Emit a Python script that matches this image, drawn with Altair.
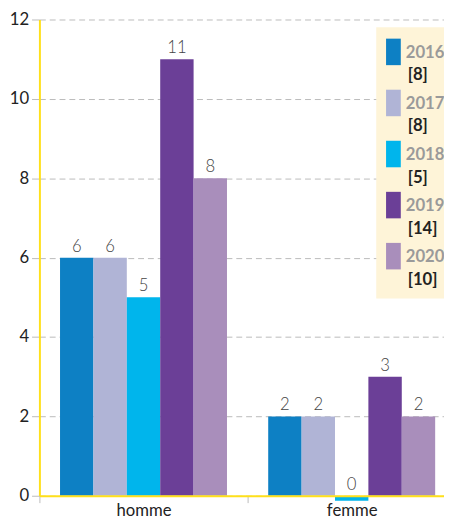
import altair as alt
import pandas as pd

categories = ["homme", "femme"]
years = ["2016", "2017", "2018", "2019", "2020"]
homme = [6, 6, 5, 11, 8]
femme = [2, 2, 0, 3, 2]
totals = [8, 8, 5, 14, 10]
colors = ["#0D80C4", "#B0B4D6", "#00B5EC", "#6B3F97", "#A98EBB"]

rows = []
for cat, vals in zip(categories, [homme, femme]):
    for y, v in zip(years, vals):
        rows.append({"sexe": cat, "year": y, "value": v})
df = pd.DataFrame(rows)
ldf = pd.DataFrame({"year": years, "lab": ["[%d]" % t for t in totals]})

FONT = "Lato"
YEL = "#FFE01B"
GRID = "#BBBBBB"

color = alt.Color("year:N", sort=years, scale=alt.Scale(domain=years, range=colors), legend=None)

base = alt.Chart(df).encode(
    x=alt.X("sexe:N", sort=categories,
            scale=alt.Scale(paddingInner=0.198, paddingOuter=0.0707, align=0.7),
            axis=alt.Axis(title=None, labelAngle=0, domainColor=YEL, domainWidth=2,
                          tickColor=GRID, tickSize=7, tickOffset=-106, labelOffset=106,
                          labelFont=FONT, labelFontSize=17, labelColor="#222",
                          labelPadding=0, zindex=1)),
    xOffset=alt.XOffset("year:N", sort=years, scale=alt.Scale(paddingInner=0, paddingOuter=0)),
)

yenc = alt.Y("value:Q", scale=alt.Scale(domain=[0, 12], nice=False),
             axis=alt.Axis(title=None, values=[0, 2, 4, 6, 8, 10, 12], grid=True,
                           gridDash=[6, 4], gridColor=GRID, tickColor=GRID, tickSize=8,
                           domainColor=YEL, domainWidth=2, labelFont=FONT,
                           labelFontSize=17, labelColor="#222", labelPadding=3))

bars = base.mark_bar().encode(y=yenc, color=color)
labels = base.mark_text(dy=-2, baseline="bottom", font=FONT, fontSize=17, fontWeight=300,
                        color="#444").encode(y="value:Q", text="value:Q")
zero = base.transform_filter("datum.value == 0").mark_tick(
    orient="horizontal", thickness=4, yOffset=3, size=34, opacity=1).encode(y="value:Q", color=color)

main = alt.layer(bars, labels, zero)

bg = alt.Chart(pd.DataFrame({"a": [0]})).mark_rect(color="#FEF4D8").encode(
    x=alt.value(343), x2=alt.value(412), y=alt.value(8), y2=alt.value(284))
ly = alt.Y("year:N", sort=years, scale=alt.Scale(range=[33, 241], padding=0), axis=None)
sq = alt.Chart(ldf).mark_point(shape="M-0.556,-1H0.556V1H-0.556Z", size=729, filled=True,
                               opacity=1).encode(x=alt.value(360.5), y=ly, color=color)
yr = alt.Chart(ldf).mark_text(align="left", baseline="middle", dy=1, font=FONT, fontSize=17,
                              fontWeight="bold", color="#9A9A9A").encode(
    x=alt.value(373), y=ly, text="year:N")
cnt = alt.Chart(ldf).mark_text(align="left", baseline="middle", dy=24, font=FONT, fontSize=17,
                               fontWeight="bold", color="#222").encode(
    x=alt.value(375), y=ly, text="lab:N")
legend = alt.layer(bg, sq, yr, cnt)

chart = alt.layer(main, legend).resolve_scale(y="independent").properties(
    width=412, height=485,
    autosize=alt.AutoSizeParams(type="none"),
    padding={"left": 32, "top": 7, "right": 0, "bottom": 21},
).configure_view(stroke=None)

chart.save("out.html", embed_options={"renderer": "svg", "actions": False})
